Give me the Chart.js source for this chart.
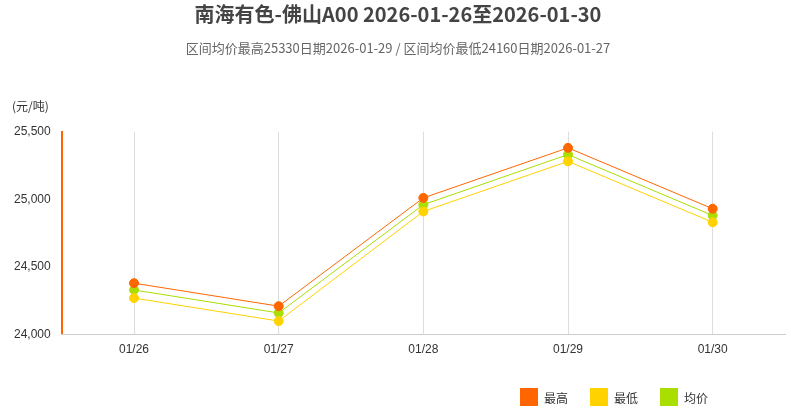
<!DOCTYPE html>
<html>
<head>
<meta charset="utf-8">
<script src="https://cdn.jsdelivr.net/npm/chart.js@4"></script>
<style>
  body { margin: 0; background: #fff; font-family: "Noto Sans CJK SC", "Noto Sans", sans-serif; }
  #wrap { position: relative; width: 791px; height: 409px; }
  #unit { position: absolute; left: 12px; top: 97px; font-size: 12px; color: #333; }
  #legend { position: absolute; left: 520px; top: 388px; font-size: 12px; color: #333; display: flex; }
  #legend span.item { display: flex; align-items: center; margin-right: 22px; }
  #legend span.box { width: 18px; height: 18px; margin-right: 6px; display: inline-block; }
</style>
</head>
<body>
<div id="wrap">
  <canvas id="priceChart" width="791" height="409"></canvas>
  <div id="unit">(元/吨)</div>
  <div id="legend"></div>
</div>
<script>
// Chart data
const dates = ['01/26', '01/27', '01/28', '01/29', '01/30'];
const highPrices = [24380, 24210, 25010, 25380, 24930];
const lowPrices = [24270, 24100, 24910, 25280, 24830];
const avgPrices = [24330, 24160, 24960, 25330, 24880];
const yTicks = [24000, 24500, 25000, 25500];

function makeSeries(label, data, color) {
    return {
        label: label,
        data: data,
        borderColor: color,
        backgroundColor: color,
        borderWidth: 1,
        pointRadius: 4.5,
        pointHoverRadius: 5,
        tension: 0
    };
}

const datasets = [
    makeSeries('最高', highPrices, '#FF6600'),
    makeSeries('最低', lowPrices, '#FFD200'),
    makeSeries('均价', avgPrices, '#AADD00')
];

// HTML legend
document.getElementById('legend').innerHTML = datasets.map(ds =>
    `<span class="item"><span class="box" style="background:${ds.borderColor}"></span>${ds.label}</span>`
).join('');

const ctx = document.getElementById('priceChart').getContext('2d');
new Chart(ctx, {
    type: 'line',
    data: { labels: dates, datasets: datasets },
    options: {
        responsive: false,
        animation: false,
        layout: { padding: { top: 2, right: 6, bottom: 44, left: 11 } },
        plugins: {
            title: {
                display: true,
                text: '南海有色-佛山A00 2026-01-26至2026-01-30',
                color: '#444',
                font: { size: 20, weight: 'bold', family: '"Noto Sans CJK SC"' },
                padding: { top: 0, bottom: 14 }
            },
            subtitle: {
                display: true,
                text: '区间均价最高25330日期2026-01-29 / 区间均价最低24160日期2026-01-27',
                color: '#666',
                font: { size: 13, family: '"Noto Sans CJK SC"' },
                padding: { bottom: 76 }
            },
            legend: { display: false },
            tooltip: { enabled: false }
        },
        scales: {
            y: {
                min: 24000,
                max: 25500,
                afterBuildTicks: axis => { axis.ticks = yTicks.map(v => ({ value: v })); },
                ticks: {
                    color: '#333',
                    font: { size: 12 },
                    callback: value => value.toLocaleString('en-US')
                },
                grid: { display: false },
                border: { display: true, color: '#FF6600', width: 2 }
            },
            x: {
                offset: true,
                ticks: { color: '#333', font: { size: 12 }, padding: 8 },
                grid: { display: true, color: '#ddd', borderDash: [3, 3], drawTicks: false },
                border: { display: true, color: '#ccc' }
            }
        }
    }
});
</script>
</body>
</html>
